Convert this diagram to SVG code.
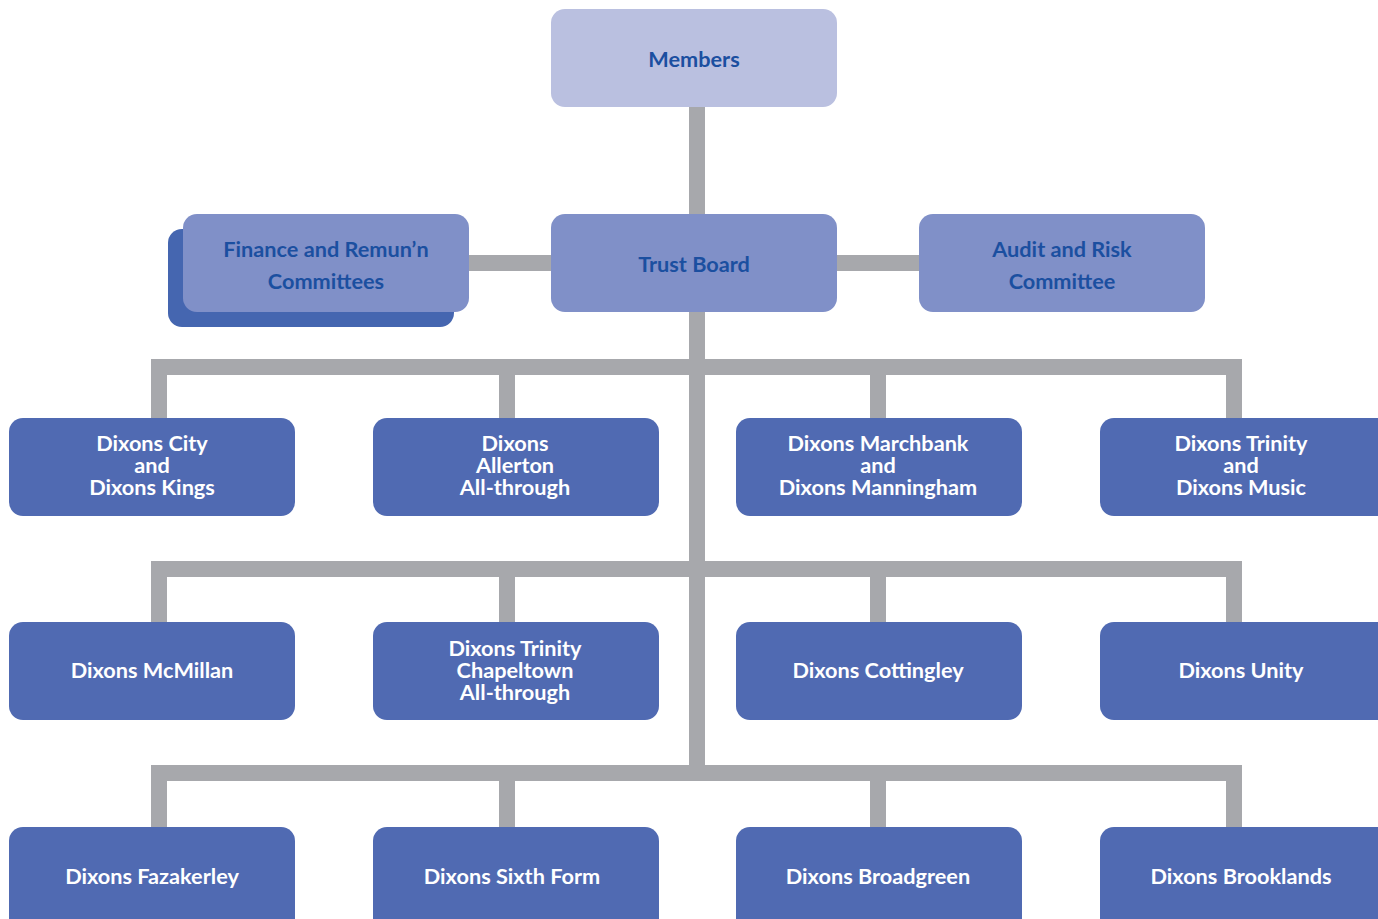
<svg xmlns="http://www.w3.org/2000/svg" width="1378" height="919" viewBox="0 0 1378 919">
<style>
.ln{fill:none;stroke:#a7a8ac;stroke-width:16;stroke-linejoin:miter;stroke-linecap:butt}
.school{fill:#506ab2}
.top{fill:#bac0e0}
.mid{fill:#8090c8}
.shadow{fill:#4566b0}
.tb{font-family:Lato,"Open Sans",sans-serif;font-weight:bold;font-size:21.7px;fill:#1b4fa0;text-anchor:middle}
.tw{font-family:Lato,"Open Sans",sans-serif;font-weight:bold;font-size:21.7px;fill:#ffffff;text-anchor:middle}
</style>
<rect width="1378" height="919" fill="#ffffff"/>
<g id="connectors">
<path class="ln" d="M697 107 V781"/>
<path class="ln" d="M469 263 H919"/>
<path class="ln" d="M159 418 V367 H1234 V418"/>
<path class="ln" d="M507 367 V418"/>
<path class="ln" d="M878 367 V418"/>
<path class="ln" d="M159 622 V569 H1234 V622"/>
<path class="ln" d="M507 569 V622"/>
<path class="ln" d="M878 569 V622"/>
<path class="ln" d="M159 827 V773 H1234 V827"/>
<path class="ln" d="M507 773 V827"/>
<path class="ln" d="M878 773 V827"/>
</g>
<g id="members"><rect class="top" x="551" y="9" width="286" height="98" rx="14"/><text class="tb" x="694" y="67">Members</text></g>
<g id="trust-board"><rect class="mid" x="551" y="214" width="286" height="98" rx="14"/><text class="tb" x="694" y="272">Trust Board</text></g>
<g id="finance"><rect class="shadow" x="168" y="229" width="286" height="98" rx="14"/><rect class="mid" x="183" y="214" width="286" height="98" rx="14"/><text class="tb" x="326" y="257">Finance and Remun’n</text><text class="tb" x="326" y="289">Committees</text></g>
<g id="audit"><rect class="mid" x="919" y="214" width="286" height="98" rx="14"/><text class="tb" x="1062" y="257">Audit and Risk</text><text class="tb" x="1062" y="289">Committee</text></g>
<g id="city-kings"><rect class="school" x="9" y="418" width="286" height="98" rx="14"/><text class="tw" x="152" y="451">Dixons City</text><text class="tw" x="152" y="473">and</text><text class="tw" x="152" y="495">Dixons Kings</text></g>
<g id="allerton"><rect class="school" x="373" y="418" width="286" height="98" rx="14"/><text class="tw" x="515" y="451">Dixons</text><text class="tw" x="515" y="473">Allerton</text><text class="tw" x="515" y="495">All-through</text></g>
<g id="marchbank"><rect class="school" x="736" y="418" width="286" height="98" rx="14"/><text class="tw" x="878" y="451">Dixons Marchbank</text><text class="tw" x="878" y="473">and</text><text class="tw" x="878" y="495">Dixons Manningham</text></g>
<g id="trinity-music"><rect class="school" x="1100" y="418" width="300" height="98" rx="14"/><text class="tw" x="1241" y="451">Dixons Trinity</text><text class="tw" x="1241" y="473">and</text><text class="tw" x="1241" y="495">Dixons Music</text></g>
<g id="mcmillan"><rect class="school" x="9" y="622" width="286" height="98" rx="14"/><text class="tw" x="152" y="678">Dixons McMillan</text></g>
<g id="chapeltown"><rect class="school" x="373" y="622" width="286" height="98" rx="14"/><text class="tw" x="515" y="656">Dixons Trinity</text><text class="tw" x="515" y="678">Chapeltown</text><text class="tw" x="515" y="700">All-through</text></g>
<g id="cottingley"><rect class="school" x="736" y="622" width="286" height="98" rx="14"/><text class="tw" x="878" y="678">Dixons Cottingley</text></g>
<g id="unity"><rect class="school" x="1100" y="622" width="300" height="98" rx="14"/><text class="tw" x="1241" y="678">Dixons Unity</text></g>
<g id="fazakerley"><rect class="school" x="9" y="827" width="286" height="120" rx="14"/><text class="tw" x="152" y="884">Dixons Fazakerley</text></g>
<g id="sixth-form"><rect class="school" x="373" y="827" width="286" height="120" rx="14"/><text class="tw" x="512" y="884">Dixons Sixth Form</text></g>
<g id="broadgreen"><rect class="school" x="736" y="827" width="286" height="120" rx="14"/><text class="tw" x="878" y="884">Dixons Broadgreen</text></g>
<g id="brooklands"><rect class="school" x="1100" y="827" width="300" height="120" rx="14"/><text class="tw" x="1241" y="884">Dixons Brooklands</text></g>
</svg>
